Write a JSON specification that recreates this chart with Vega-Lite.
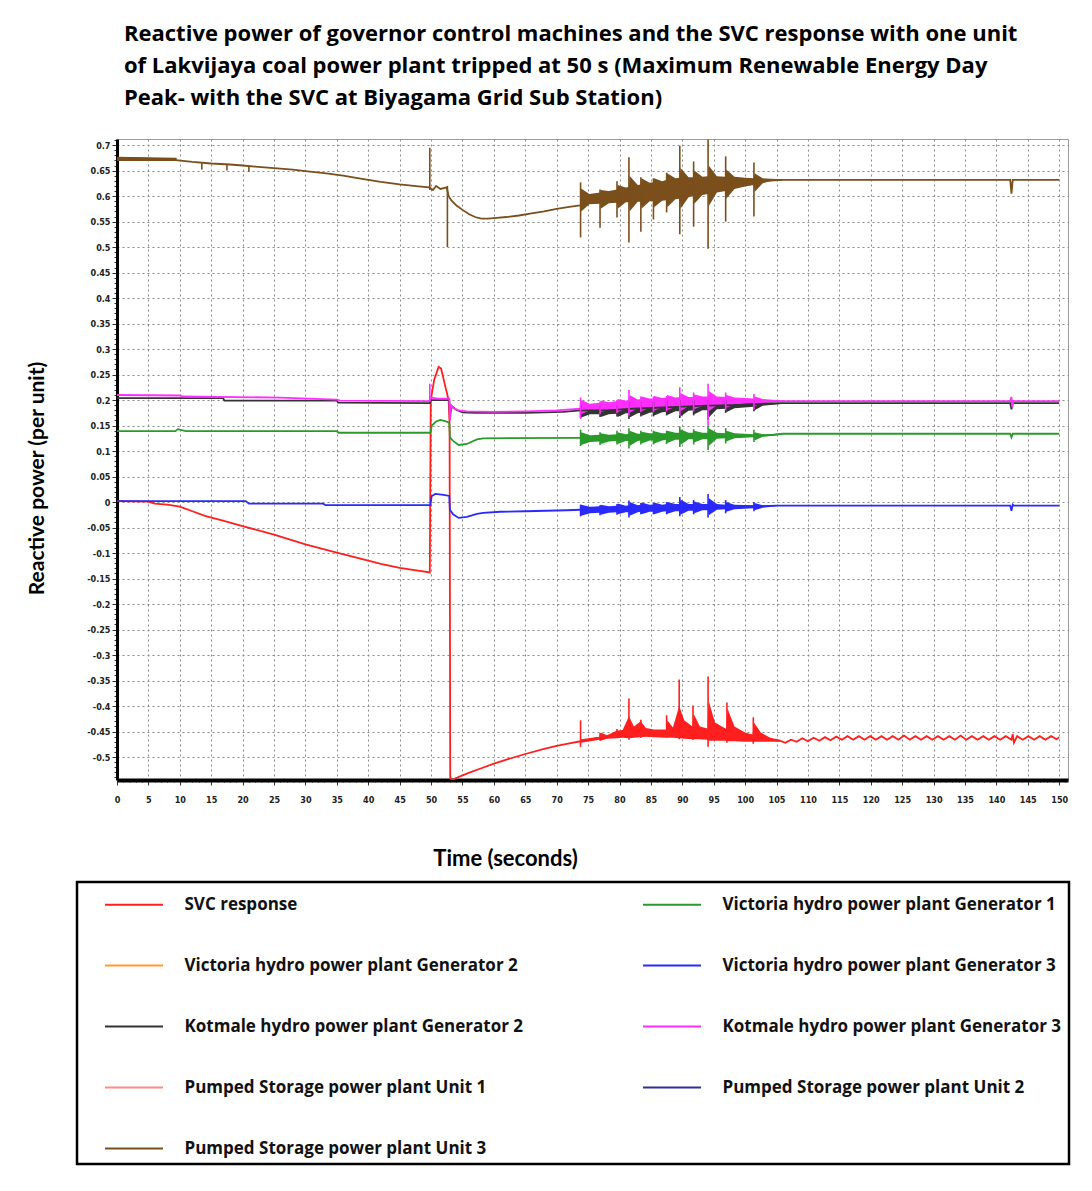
{
"$schema": "https://vega.github.io/schema/vega-lite/v6.json",
"width": 951,
"height": 641,
"autosize": {"type": "none"},
"padding": {"left": 117, "top": 139, "right": 24, "bottom": 411},
"background": "white",
"title": {
"text": ["Reactive power of governor control machines and the SVC response with one unit", "of Lakvijaya coal power plant tripped at 50 s (Maximum Renewable Energy Day", "Peak- with the SVC at Biyagama Grid Sub Station)"],
"anchor": "start", "frame": "group", "dx": 7, "offset": 26,
"font": "Open Sans", "fontSize": 22, "fontWeight": "bold", "color": "#000", "lineHeight": 32
},
"config": {
"view": {"stroke": "#9a9a9a", "strokeWidth": 1}
},
"datasets": {
"lines": [
{"s":"S","t":0,"q":0.002},{"s":"S","t":5,"q":0.001},{"s":"S","t":6,"q":-0.003},{"s":"S","t":8,"q":-0.005},{"s":"S","t":10,"q":-0.009},{"s":"S","t":12,"q":-0.018},{"s":"S","t":14,"q":-0.027},{"s":"S","t":17,"q":-0.037},{"s":"S","t":20,"q":-0.047},{"s":"S","t":25,"q":-0.064},{"s":"S","t":30,"q":-0.083},{"s":"S","t":35,"q":-0.099},{"s":"S","t":40,"q":-0.115},{"s":"S","t":42,"q":-0.121},{"s":"S","t":45,"q":-0.129},{"s":"S","t":49.8,"q":-0.138},{"s":"S","t":49.95,"q":0.2},{"s":"S","t":50.5,"q":0.24},{"s":"S","t":51.2,"q":0.265},{"s":"S","t":51.6,"q":0.262},{"s":"S","t":52.3,"q":0.225},{"s":"S","t":52.8,"q":0.2},{"s":"S","t":52.95,"q":0.15},{"s":"S","t":53.05,"q":-0.54},{"s":"S","t":53.3,"q":-0.545},{"s":"S","t":54,"q":-0.541},{"s":"S","t":55,"q":-0.536},{"s":"S","t":56,"q":-0.531},{"s":"S","t":58,"q":-0.522},{"s":"S","t":60,"q":-0.513},{"s":"S","t":62,"q":-0.505},{"s":"S","t":65,"q":-0.494},{"s":"S","t":68,"q":-0.484},{"s":"S","t":70,"q":-0.478},{"s":"S","t":72,"q":-0.473},{"s":"S","t":73.8,"q":-0.469},{"s":"S","t":76,"q":-0.464},{"s":"S","t":80,"q":-0.456},{"s":"S","t":84,"q":-0.454},{"s":"S","t":88,"q":-0.455},{"s":"S","t":92,"q":-0.456},{"s":"S","t":96,"q":-0.458},{"s":"S","t":100,"q":-0.461},{"s":"S","t":104,"q":-0.466},{"s":"S","t":105.5,"q":-0.468},{"s":"S","t":106.4,"q":-0.472},{"s":"S","t":107.3,"q":-0.466},{"s":"S","t":108.2,"q":-0.47},{"s":"S","t":109.1,"q":-0.463},{"s":"S","t":110,"q":-0.469},{"s":"S","t":110.9,"q":-0.462},{"s":"S","t":111.8,"q":-0.468},{"s":"S","t":112.7,"q":-0.461},{"s":"S","t":113.6,"q":-0.467},{"s":"S","t":114.5,"q":-0.46},{"s":"S","t":115.4,"q":-0.466},{"s":"S","t":116.3,"q":-0.459},{"s":"S","t":117.2,"q":-0.466},{"s":"S","t":118.1,"q":-0.459},{"s":"S","t":119,"q":-0.466},{"s":"S","t":119.9,"q":-0.459},{"s":"S","t":120.8,"q":-0.466},{"s":"S","t":121.7,"q":-0.459},{"s":"S","t":122.6,"q":-0.466},{"s":"S","t":123.5,"q":-0.459},{"s":"S","t":124.4,"q":-0.466},{"s":"S","t":125.3,"q":-0.458},{"s":"S","t":126.2,"q":-0.466},{"s":"S","t":127.1,"q":-0.459},{"s":"S","t":128,"q":-0.466},{"s":"S","t":128.9,"q":-0.459},{"s":"S","t":129.8,"q":-0.466},{"s":"S","t":130.7,"q":-0.459},{"s":"S","t":131.6,"q":-0.466},{"s":"S","t":132.5,"q":-0.459},{"s":"S","t":133.4,"q":-0.466},{"s":"S","t":134.3,"q":-0.458},{"s":"S","t":135.2,"q":-0.466},{"s":"S","t":136.1,"q":-0.459},{"s":"S","t":137,"q":-0.466},{"s":"S","t":137.9,"q":-0.459},{"s":"S","t":138.8,"q":-0.466},{"s":"S","t":139.7,"q":-0.459},{"s":"S","t":140.6,"q":-0.466},{"s":"S","t":141.5,"q":-0.459},{"s":"S","t":142.4,"q":-0.466},{"s":"S","t":142.6,"q":-0.455},{"s":"S","t":142.8,"q":-0.472},{"s":"S","t":143.3,"q":-0.459},{"s":"S","t":144.2,"q":-0.466},{"s":"S","t":145.1,"q":-0.459},{"s":"S","t":146,"q":-0.466},{"s":"S","t":146.9,"q":-0.459},{"s":"S","t":147.8,"q":-0.466},{"s":"S","t":148.7,"q":-0.459},{"s":"S","t":149.6,"q":-0.465},{"s":"S","t":150,"q":-0.461},
{"s":"P3","t":0,"q":0.673},{"s":"P3","t":3,"q":0.674},{"s":"P3","t":6,"q":0.673},{"s":"P3","t":9,"q":0.671},{"s":"P3","t":12,"q":0.667},{"s":"P3","t":15,"q":0.664},{"s":"P3","t":18,"q":0.662},{"s":"P3","t":20,"q":0.66},{"s":"P3","t":22,"q":0.658},{"s":"P3","t":25,"q":0.655},{"s":"P3","t":28,"q":0.652},{"s":"P3","t":30,"q":0.649},{"s":"P3","t":33,"q":0.645},{"s":"P3","t":36,"q":0.64},{"s":"P3","t":39,"q":0.634},{"s":"P3","t":42,"q":0.628},{"s":"P3","t":45,"q":0.623},{"s":"P3","t":48,"q":0.619},{"s":"P3","t":49.7,"q":0.617},{"s":"P3","t":50.3,"q":0.612},{"s":"P3","t":50.8,"q":0.62},{"s":"P3","t":51.5,"q":0.614},{"s":"P3","t":52.5,"q":0.617},{"s":"P3","t":52.8,"q":0.6},{"s":"P3","t":53.2,"q":0.592},{"s":"P3","t":54,"q":0.582},{"s":"P3","t":55,"q":0.573},{"s":"P3","t":56,"q":0.565},{"s":"P3","t":57,"q":0.559},{"s":"P3","t":58,"q":0.556},{"s":"P3","t":59,"q":0.556},{"s":"P3","t":60,"q":0.557},{"s":"P3","t":62,"q":0.559},{"s":"P3","t":64,"q":0.562},{"s":"P3","t":66,"q":0.566},{"s":"P3","t":68,"q":0.57},{"s":"P3","t":70,"q":0.575},{"s":"P3","t":72,"q":0.579},{"s":"P3","t":73.7,"q":0.582},{"s":"P3","t":78,"q":0.598},{"s":"P3","t":82,"q":0.604},{"s":"P3","t":86,"q":0.609},{"s":"P3","t":90,"q":0.616},{"s":"P3","t":94,"q":0.621},{"s":"P3","t":98,"q":0.626},{"s":"P3","t":102,"q":0.629},{"s":"P3","t":106,"q":0.632},{"s":"P3","t":120,"q":0.632},{"s":"P3","t":142.2,"q":0.632},{"s":"P3","t":142.4,"q":0.605},{"s":"P3","t":142.6,"q":0.632},{"s":"P3","t":150,"q":0.632},
{"s":"K2","t":0,"q":0.204},{"s":"K2","t":16.9,"q":0.204},{"s":"K2","t":17.1,"q":0.199},{"s":"K2","t":35,"q":0.199},{"s":"K2","t":35.2,"q":0.195},{"s":"K2","t":49.8,"q":0.194},{"s":"K2","t":50,"q":0.2},{"s":"K2","t":52.9,"q":0.2},{"s":"K2","t":53,"q":0.17},{"s":"K2","t":53.3,"q":0.188},{"s":"K2","t":54,"q":0.181},{"s":"K2","t":55,"q":0.176},{"s":"K2","t":57,"q":0.175},{"s":"K2","t":65,"q":0.175},{"s":"K2","t":71,"q":0.177},{"s":"K2","t":73.8,"q":0.18},{"s":"K2","t":78,"q":0.18},{"s":"K2","t":82,"q":0.183},{"s":"K2","t":86,"q":0.185},{"s":"K2","t":90,"q":0.187},{"s":"K2","t":94,"q":0.189},{"s":"K2","t":98,"q":0.19},{"s":"K2","t":102,"q":0.192},{"s":"K2","t":106,"q":0.194},{"s":"K2","t":142.2,"q":0.194},{"s":"K2","t":142.4,"q":0.182},{"s":"K2","t":142.6,"q":0.194},{"s":"K2","t":150,"q":0.194},
{"s":"K3","t":0,"q":0.21},{"s":"K3","t":10,"q":0.209},{"s":"K3","t":10.5,"q":0.207},{"s":"K3","t":26,"q":0.205},{"s":"K3","t":35,"q":0.201},{"s":"K3","t":35.5,"q":0.199},{"s":"K3","t":49.8,"q":0.198},{"s":"K3","t":50,"q":0.205},{"s":"K3","t":51,"q":0.203},{"s":"K3","t":52.9,"q":0.203},{"s":"K3","t":53,"q":0.16},{"s":"K3","t":53.2,"q":0.19},{"s":"K3","t":53.6,"q":0.184},{"s":"K3","t":54.4,"q":0.18},{"s":"K3","t":55.7,"q":0.178},{"s":"K3","t":60,"q":0.177},{"s":"K3","t":65,"q":0.178},{"s":"K3","t":70,"q":0.18},{"s":"K3","t":73.8,"q":0.183},{"s":"K3","t":78,"q":0.188},{"s":"K3","t":82,"q":0.191},{"s":"K3","t":86,"q":0.194},{"s":"K3","t":90,"q":0.196},{"s":"K3","t":94,"q":0.197},{"s":"K3","t":98,"q":0.198},{"s":"K3","t":106,"q":0.198},{"s":"K3","t":142.2,"q":0.198},{"s":"K3","t":142.4,"q":0.206},{"s":"K3","t":142.5,"q":0.186},{"s":"K3","t":142.7,"q":0.198},{"s":"K3","t":150,"q":0.198},
{"s":"V1","t":0,"q":0.139},{"s":"V1","t":9.3,"q":0.139},{"s":"V1","t":9.7,"q":0.143},{"s":"V1","t":10.3,"q":0.141},{"s":"V1","t":11,"q":0.139},{"s":"V1","t":35,"q":0.139},{"s":"V1","t":35.3,"q":0.136},{"s":"V1","t":49.9,"q":0.136},{"s":"V1","t":50.1,"q":0.15},{"s":"V1","t":50.8,"q":0.158},{"s":"V1","t":51.5,"q":0.161},{"s":"V1","t":52.5,"q":0.158},{"s":"V1","t":52.9,"q":0.155},{"s":"V1","t":53,"q":0.127},{"s":"V1","t":53.5,"q":0.12},{"s":"V1","t":54.4,"q":0.112},{"s":"V1","t":55.7,"q":0.114},{"s":"V1","t":57.3,"q":0.123},{"s":"V1","t":58.3,"q":0.125},{"s":"V1","t":73.8,"q":0.126},{"s":"V1","t":78,"q":0.126},{"s":"V1","t":82,"q":0.127},{"s":"V1","t":86,"q":0.128},{"s":"V1","t":90,"q":0.129},{"s":"V1","t":94,"q":0.13},{"s":"V1","t":102,"q":0.13},{"s":"V1","t":104.5,"q":0.132},{"s":"V1","t":106,"q":0.134},{"s":"V1","t":142.2,"q":0.134},{"s":"V1","t":142.4,"q":0.127},{"s":"V1","t":142.6,"q":0.134},{"s":"V1","t":150,"q":0.134},
{"s":"V3","t":0,"q":0.002},{"s":"V3","t":20.5,"q":0.002},{"s":"V3","t":21,"q":-0.003},{"s":"V3","t":32.8,"q":-0.003},{"s":"V3","t":33.2,"q":-0.006},{"s":"V3","t":49.9,"q":-0.006},{"s":"V3","t":50.1,"q":0.012},{"s":"V3","t":50.7,"q":0.016},{"s":"V3","t":52,"q":0.014},{"s":"V3","t":52.9,"q":0.012},{"s":"V3","t":53,"q":-0.015},{"s":"V3","t":53.5,"q":-0.024},{"s":"V3","t":54.4,"q":-0.031},{"s":"V3","t":55.7,"q":-0.029},{"s":"V3","t":57.3,"q":-0.023},{"s":"V3","t":58.3,"q":-0.021},{"s":"V3","t":61,"q":-0.019},{"s":"V3","t":65,"q":-0.018},{"s":"V3","t":71.6,"q":-0.016},{"s":"V3","t":73.8,"q":-0.015},{"s":"V3","t":78,"q":-0.014},{"s":"V3","t":82,"q":-0.013},{"s":"V3","t":86,"q":-0.012},{"s":"V3","t":90,"q":-0.011},{"s":"V3","t":94,"q":-0.01},{"s":"V3","t":98,"q":-0.009},{"s":"V3","t":102,"q":-0.008},{"s":"V3","t":105,"q":-0.007},{"s":"V3","t":142.2,"q":-0.007},{"s":"V3","t":142.4,"q":-0.017},{"s":"V3","t":142.6,"q":-0.005},{"s":"V3","t":142.8,"q":-0.007},{"s":"V3","t":150,"q":-0.007}
],
"bands": [
{"s":"S","g":2,"t":73.9,"lo":-0.472,"hi":-0.465},{"s":"S","g":2,"t":76.8,"lo":-0.466,"hi":-0.46},{"s":"S","g":2,"t":77,"lo":-0.468,"hi":-0.452},{"s":"S","g":2,"t":78,"lo":-0.464,"hi":-0.457},{"s":"S","g":2,"t":79.6,"lo":-0.463,"hi":-0.448},{"s":"S","g":2,"t":80.5,"lo":-0.462,"hi":-0.447},{"s":"S","g":2,"t":81.5,"lo":-0.463,"hi":-0.42},{"s":"S","g":2,"t":82.3,"lo":-0.462,"hi":-0.44},{"s":"S","g":2,"t":83.4,"lo":-0.461,"hi":-0.43},{"s":"S","g":2,"t":84.2,"lo":-0.46,"hi":-0.443},{"s":"S","g":2,"t":85.5,"lo":-0.461,"hi":-0.446},{"s":"S","g":2,"t":87.4,"lo":-0.462,"hi":-0.446},{"s":"S","g":2,"t":87.6,"lo":-0.462,"hi":-0.428},{"s":"S","g":2,"t":88.5,"lo":-0.462,"hi":-0.442},{"s":"S","g":2,"t":89.5,"lo":-0.463,"hi":-0.4},{"s":"S","g":2,"t":90.3,"lo":-0.464,"hi":-0.428},{"s":"S","g":2,"t":91.6,"lo":-0.465,"hi":-0.44},{"s":"S","g":2,"t":91.8,"lo":-0.465,"hi":-0.415},{"s":"S","g":2,"t":92.8,"lo":-0.465,"hi":-0.44},{"s":"S","g":2,"t":94,"lo":-0.466,"hi":-0.444},{"s":"S","g":2,"t":94.2,"lo":-0.468,"hi":-0.39},{"s":"S","g":2,"t":95.2,"lo":-0.468,"hi":-0.432},{"s":"S","g":2,"t":97,"lo":-0.468,"hi":-0.445},{"s":"S","g":2,"t":97.2,"lo":-0.469,"hi":-0.405},{"s":"S","g":2,"t":98.3,"lo":-0.469,"hi":-0.44},{"s":"S","g":2,"t":100,"lo":-0.47,"hi":-0.452},{"s":"S","g":2,"t":101.2,"lo":-0.47,"hi":-0.456},{"s":"S","g":2,"t":101.4,"lo":-0.47,"hi":-0.432},{"s":"S","g":2,"t":102.5,"lo":-0.47,"hi":-0.452},{"s":"S","g":2,"t":104,"lo":-0.47,"hi":-0.462},{"s":"S","g":2,"t":105.5,"lo":-0.47,"hi":-0.466},
{"s":"P3","g":1,"t":0,"lo":0.669,"hi":0.677},{"s":"P3","g":1,"t":9.5,"lo":0.669,"hi":0.675},
{"s":"P3","g":2,"t":73.8,"lo":0.583,"hi":0.603},{"s":"P3","g":2,"t":73.9,"lo":0.57,"hi":0.615},{"s":"P3","g":2,"t":75.2,"lo":0.584,"hi":0.604},{"s":"P3","g":2,"t":76.9,"lo":0.585,"hi":0.607},{"s":"P3","g":2,"t":77,"lo":0.575,"hi":0.612},{"s":"P3","g":2,"t":78.3,"lo":0.586,"hi":0.61},{"s":"P3","g":2,"t":79.6,"lo":0.587,"hi":0.613},{"s":"P3","g":2,"t":79.7,"lo":0.575,"hi":0.622},{"s":"P3","g":2,"t":81,"lo":0.588,"hi":0.617},{"s":"P3","g":2,"t":81.5,"lo":0.588,"hi":0.618},{"s":"P3","g":2,"t":81.6,"lo":0.57,"hi":0.64},{"s":"P3","g":2,"t":82.9,"lo":0.589,"hi":0.622},{"s":"P3","g":2,"t":83.4,"lo":0.589,"hi":0.623},{"s":"P3","g":2,"t":83.5,"lo":0.575,"hi":0.635},{"s":"P3","g":2,"t":84.8,"lo":0.59,"hi":0.626},{"s":"P3","g":2,"t":85.4,"lo":0.59,"hi":0.627},{"s":"P3","g":2,"t":85.5,"lo":0.578,"hi":0.635},{"s":"P3","g":2,"t":86.8,"lo":0.591,"hi":0.629},{"s":"P3","g":2,"t":87.5,"lo":0.592,"hi":0.632},{"s":"P3","g":2,"t":87.6,"lo":0.578,"hi":0.645},{"s":"P3","g":2,"t":88.9,"lo":0.594,"hi":0.635},{"s":"P3","g":2,"t":89.6,"lo":0.595,"hi":0.636},{"s":"P3","g":2,"t":89.7,"lo":0.575,"hi":0.655},{"s":"P3","g":2,"t":91,"lo":0.598,"hi":0.637},{"s":"P3","g":2,"t":91.8,"lo":0.6,"hi":0.637},{"s":"P3","g":2,"t":91.9,"lo":0.585,"hi":0.65},{"s":"P3","g":2,"t":93.2,"lo":0.602,"hi":0.638},{"s":"P3","g":2,"t":94.1,"lo":0.604,"hi":0.639},{"s":"P3","g":2,"t":94.2,"lo":0.58,"hi":0.66},{"s":"P3","g":2,"t":95.5,"lo":0.607,"hi":0.639},{"s":"P3","g":2,"t":96.9,"lo":0.61,"hi":0.638},{"s":"P3","g":2,"t":97,"lo":0.595,"hi":0.652},{"s":"P3","g":2,"t":98.3,"lo":0.614,"hi":0.638},{"s":"P3","g":2,"t":100,"lo":0.619,"hi":0.636},{"s":"P3","g":2,"t":101.4,"lo":0.622,"hi":0.635},{"s":"P3","g":2,"t":101.5,"lo":0.608,"hi":0.645},{"s":"P3","g":2,"t":102.8,"lo":0.625,"hi":0.635},{"s":"P3","g":2,"t":104,"lo":0.629,"hi":0.634},{"s":"P3","g":2,"t":106,"lo":0.631,"hi":0.633},
{"s":"K2","g":2,"t":73.8,"lo":0.172,"hi":0.186},{"s":"K2","g":2,"t":73.9,"lo":0.166,"hi":0.188},{"s":"K2","g":2,"t":75.3,"lo":0.172,"hi":0.187},{"s":"K2","g":2,"t":76.9,"lo":0.172,"hi":0.187},{"s":"K2","g":2,"t":77,"lo":0.167,"hi":0.189},{"s":"K2","g":2,"t":78.3,"lo":0.172,"hi":0.188},{"s":"K2","g":2,"t":79.6,"lo":0.173,"hi":0.189},{"s":"K2","g":2,"t":79.7,"lo":0.167,"hi":0.19},{"s":"K2","g":2,"t":81,"lo":0.174,"hi":0.191},{"s":"K2","g":2,"t":81.5,"lo":0.174,"hi":0.191},{"s":"K2","g":2,"t":81.6,"lo":0.166,"hi":0.194},{"s":"K2","g":2,"t":82.9,"lo":0.174,"hi":0.192},{"s":"K2","g":2,"t":83.4,"lo":0.175,"hi":0.193},{"s":"K2","g":2,"t":83.5,"lo":0.169,"hi":0.195},{"s":"K2","g":2,"t":84.8,"lo":0.175,"hi":0.194},{"s":"K2","g":2,"t":85.4,"lo":0.176,"hi":0.194},{"s":"K2","g":2,"t":85.5,"lo":0.17,"hi":0.196},{"s":"K2","g":2,"t":86.8,"lo":0.176,"hi":0.195},{"s":"K2","g":2,"t":87.5,"lo":0.177,"hi":0.196},{"s":"K2","g":2,"t":87.6,"lo":0.171,"hi":0.197},{"s":"K2","g":2,"t":88.9,"lo":0.178,"hi":0.196},{"s":"K2","g":2,"t":89.6,"lo":0.178,"hi":0.197},{"s":"K2","g":2,"t":89.7,"lo":0.168,"hi":0.199},{"s":"K2","g":2,"t":91,"lo":0.179,"hi":0.197},{"s":"K2","g":2,"t":91.8,"lo":0.18,"hi":0.197},{"s":"K2","g":2,"t":91.9,"lo":0.172,"hi":0.199},{"s":"K2","g":2,"t":93.2,"lo":0.18,"hi":0.198},{"s":"K2","g":2,"t":94.1,"lo":0.18,"hi":0.198},{"s":"K2","g":2,"t":94.2,"lo":0.166,"hi":0.2},{"s":"K2","g":2,"t":95.5,"lo":0.182,"hi":0.198},{"s":"K2","g":2,"t":96.9,"lo":0.183,"hi":0.197},{"s":"K2","g":2,"t":97,"lo":0.176,"hi":0.199},{"s":"K2","g":2,"t":98.3,"lo":0.184,"hi":0.197},{"s":"K2","g":2,"t":101.4,"lo":0.187,"hi":0.196},{"s":"K2","g":2,"t":101.5,"lo":0.18,"hi":0.198},{"s":"K2","g":2,"t":102.8,"lo":0.189,"hi":0.196},{"s":"K2","g":2,"t":106,"lo":0.193,"hi":0.195},
{"s":"K3","g":2,"t":73.8,"lo":0.18,"hi":0.192},{"s":"K3","g":2,"t":73.9,"lo":0.172,"hi":0.2},{"s":"K3","g":2,"t":75.3,"lo":0.18,"hi":0.193},{"s":"K3","g":2,"t":76.9,"lo":0.181,"hi":0.195},{"s":"K3","g":2,"t":77,"lo":0.176,"hi":0.199},{"s":"K3","g":2,"t":78.3,"lo":0.181,"hi":0.196},{"s":"K3","g":2,"t":79.6,"lo":0.182,"hi":0.198},{"s":"K3","g":2,"t":79.7,"lo":0.176,"hi":0.202},{"s":"K3","g":2,"t":81,"lo":0.183,"hi":0.199},{"s":"K3","g":2,"t":81.5,"lo":0.183,"hi":0.2},{"s":"K3","g":2,"t":81.6,"lo":0.175,"hi":0.21},{"s":"K3","g":2,"t":82.9,"lo":0.184,"hi":0.201},{"s":"K3","g":2,"t":83.4,"lo":0.184,"hi":0.202},{"s":"K3","g":2,"t":83.5,"lo":0.178,"hi":0.207},{"s":"K3","g":2,"t":84.8,"lo":0.185,"hi":0.203},{"s":"K3","g":2,"t":85.4,"lo":0.185,"hi":0.203},{"s":"K3","g":2,"t":85.5,"lo":0.179,"hi":0.208},{"s":"K3","g":2,"t":86.8,"lo":0.186,"hi":0.204},{"s":"K3","g":2,"t":87.5,"lo":0.186,"hi":0.205},{"s":"K3","g":2,"t":87.6,"lo":0.18,"hi":0.21},{"s":"K3","g":2,"t":88.9,"lo":0.187,"hi":0.205},{"s":"K3","g":2,"t":89.6,"lo":0.187,"hi":0.206},{"s":"K3","g":2,"t":89.7,"lo":0.178,"hi":0.214},{"s":"K3","g":2,"t":91,"lo":0.188,"hi":0.206},{"s":"K3","g":2,"t":91.8,"lo":0.188,"hi":0.206},{"s":"K3","g":2,"t":91.9,"lo":0.182,"hi":0.211},{"s":"K3","g":2,"t":93.2,"lo":0.189,"hi":0.207},{"s":"K3","g":2,"t":94.1,"lo":0.189,"hi":0.207},{"s":"K3","g":2,"t":94.2,"lo":0.178,"hi":0.218},{"s":"K3","g":2,"t":95.5,"lo":0.19,"hi":0.207},{"s":"K3","g":2,"t":96.9,"lo":0.191,"hi":0.206},{"s":"K3","g":2,"t":97,"lo":0.185,"hi":0.21},{"s":"K3","g":2,"t":98.3,"lo":0.192,"hi":0.205},{"s":"K3","g":2,"t":101.4,"lo":0.194,"hi":0.203},{"s":"K3","g":2,"t":101.5,"lo":0.188,"hi":0.207},{"s":"K3","g":2,"t":102.8,"lo":0.195,"hi":0.202},{"s":"K3","g":2,"t":106,"lo":0.197,"hi":0.199},
{"s":"V1","g":2,"t":73.8,"lo":0.118,"hi":0.131},{"s":"V1","g":2,"t":73.9,"lo":0.112,"hi":0.137},{"s":"V1","g":2,"t":75.3,"lo":0.118,"hi":0.131},{"s":"V1","g":2,"t":76.9,"lo":0.119,"hi":0.132},{"s":"V1","g":2,"t":77,"lo":0.114,"hi":0.135},{"s":"V1","g":2,"t":78.3,"lo":0.119,"hi":0.132},{"s":"V1","g":2,"t":79.6,"lo":0.12,"hi":0.133},{"s":"V1","g":2,"t":79.7,"lo":0.114,"hi":0.137},{"s":"V1","g":2,"t":81,"lo":0.12,"hi":0.133},{"s":"V1","g":2,"t":81.5,"lo":0.12,"hi":0.134},{"s":"V1","g":2,"t":81.6,"lo":0.11,"hi":0.14},{"s":"V1","g":2,"t":82.9,"lo":0.12,"hi":0.134},{"s":"V1","g":2,"t":83.4,"lo":0.121,"hi":0.134},{"s":"V1","g":2,"t":83.5,"lo":0.115,"hi":0.138},{"s":"V1","g":2,"t":84.8,"lo":0.121,"hi":0.135},{"s":"V1","g":2,"t":85.4,"lo":0.121,"hi":0.135},{"s":"V1","g":2,"t":85.5,"lo":0.115,"hi":0.139},{"s":"V1","g":2,"t":86.8,"lo":0.121,"hi":0.135},{"s":"V1","g":2,"t":87.5,"lo":0.122,"hi":0.135},{"s":"V1","g":2,"t":87.6,"lo":0.116,"hi":0.14},{"s":"V1","g":2,"t":88.9,"lo":0.122,"hi":0.136},{"s":"V1","g":2,"t":89.6,"lo":0.122,"hi":0.136},{"s":"V1","g":2,"t":89.7,"lo":0.112,"hi":0.143},{"s":"V1","g":2,"t":91,"lo":0.123,"hi":0.136},{"s":"V1","g":2,"t":91.8,"lo":0.123,"hi":0.136},{"s":"V1","g":2,"t":91.9,"lo":0.117,"hi":0.14},{"s":"V1","g":2,"t":93.2,"lo":0.123,"hi":0.136},{"s":"V1","g":2,"t":94.1,"lo":0.123,"hi":0.136},{"s":"V1","g":2,"t":94.2,"lo":0.11,"hi":0.145},{"s":"V1","g":2,"t":95.5,"lo":0.124,"hi":0.136},{"s":"V1","g":2,"t":96.9,"lo":0.125,"hi":0.135},{"s":"V1","g":2,"t":97,"lo":0.119,"hi":0.14},{"s":"V1","g":2,"t":98.3,"lo":0.125,"hi":0.135},{"s":"V1","g":2,"t":101.4,"lo":0.127,"hi":0.133},{"s":"V1","g":2,"t":101.5,"lo":0.121,"hi":0.137},{"s":"V1","g":2,"t":102.8,"lo":0.128,"hi":0.133},{"s":"V1","g":2,"t":104.5,"lo":0.13,"hi":0.133},{"s":"V1","g":2,"t":106,"lo":0.133,"hi":0.135},
{"s":"V3","g":2,"t":73.8,"lo":-0.022,"hi":-0.01},{"s":"V3","g":2,"t":73.9,"lo":-0.027,"hi":-0.005},{"s":"V3","g":2,"t":75.3,"lo":-0.022,"hi":-0.009},{"s":"V3","g":2,"t":76.9,"lo":-0.021,"hi":-0.008},{"s":"V3","g":2,"t":77,"lo":-0.025,"hi":-0.005},{"s":"V3","g":2,"t":78.3,"lo":-0.021,"hi":-0.008},{"s":"V3","g":2,"t":79.6,"lo":-0.02,"hi":-0.007},{"s":"V3","g":2,"t":79.7,"lo":-0.024,"hi":-0.003},{"s":"V3","g":2,"t":81,"lo":-0.02,"hi":-0.007},{"s":"V3","g":2,"t":81.5,"lo":-0.02,"hi":-0.006},{"s":"V3","g":2,"t":81.6,"lo":-0.027,"hi":0},{"s":"V3","g":2,"t":82.9,"lo":-0.02,"hi":-0.006},{"s":"V3","g":2,"t":83.4,"lo":-0.019,"hi":-0.005},{"s":"V3","g":2,"t":83.5,"lo":-0.024,"hi":-0.001},{"s":"V3","g":2,"t":84.8,"lo":-0.019,"hi":-0.005},{"s":"V3","g":2,"t":85.4,"lo":-0.019,"hi":-0.005},{"s":"V3","g":2,"t":85.5,"lo":-0.024,"hi":-0.001},{"s":"V3","g":2,"t":86.8,"lo":-0.019,"hi":-0.005},{"s":"V3","g":2,"t":87.5,"lo":-0.018,"hi":-0.004},{"s":"V3","g":2,"t":87.6,"lo":-0.023,"hi":0},{"s":"V3","g":2,"t":88.9,"lo":-0.018,"hi":-0.004},{"s":"V3","g":2,"t":89.6,"lo":-0.018,"hi":-0.004},{"s":"V3","g":2,"t":89.7,"lo":-0.025,"hi":0.005},{"s":"V3","g":2,"t":91,"lo":-0.017,"hi":-0.004},{"s":"V3","g":2,"t":91.8,"lo":-0.017,"hi":-0.004},{"s":"V3","g":2,"t":91.9,"lo":-0.022,"hi":0.001},{"s":"V3","g":2,"t":93.2,"lo":-0.016,"hi":-0.004},{"s":"V3","g":2,"t":94.1,"lo":-0.016,"hi":-0.004},{"s":"V3","g":2,"t":94.2,"lo":-0.026,"hi":0.008},{"s":"V3","g":2,"t":95.5,"lo":-0.015,"hi":-0.004},{"s":"V3","g":2,"t":96.9,"lo":-0.014,"hi":-0.005},{"s":"V3","g":2,"t":97,"lo":-0.019,"hi":0},{"s":"V3","g":2,"t":98.3,"lo":-0.014,"hi":-0.005},{"s":"V3","g":2,"t":101.4,"lo":-0.012,"hi":-0.006},{"s":"V3","g":2,"t":101.5,"lo":-0.016,"hi":-0.002},{"s":"V3","g":2,"t":102.8,"lo":-0.011,"hi":-0.006},{"s":"V3","g":2,"t":105,"lo":-0.008,"hi":-0.006}
],
"spikes": [
{"s":"S","t":73.8,"lo":-0.48,"hi":-0.428},{"s":"S","t":76.9,"lo":-0.468,"hi":-0.453},{"s":"S","t":79.6,"lo":-0.462,"hi":-0.445},{"s":"S","t":81.5,"lo":-0.466,"hi":-0.385},{"s":"S","t":83.4,"lo":-0.462,"hi":-0.427},{"s":"S","t":87.5,"lo":-0.462,"hi":-0.418},{"s":"S","t":89.5,"lo":-0.465,"hi":-0.348},{"s":"S","t":91.7,"lo":-0.466,"hi":-0.399},{"s":"S","t":94.1,"lo":-0.48,"hi":-0.342},{"s":"S","t":97.1,"lo":-0.472,"hi":-0.393},{"s":"S","t":101.3,"lo":-0.474,"hi":-0.422},
{"s":"P3","t":13.5,"lo":0.652,"hi":0.665},{"s":"P3","t":17.5,"lo":0.65,"hi":0.662},{"s":"P3","t":21,"lo":0.648,"hi":0.659},{"s":"P3","t":49.8,"lo":0.612,"hi":0.695},{"s":"P3","t":52.6,"lo":0.5,"hi":0.62},{"s":"P3","t":73.8,"lo":0.519,"hi":0.627},{"s":"P3","t":76.9,"lo":0.538,"hi":0.613},{"s":"P3","t":79.6,"lo":0.558,"hi":0.629},{"s":"P3","t":81.5,"lo":0.509,"hi":0.676},{"s":"P3","t":83.4,"lo":0.53,"hi":0.637},{"s":"P3","t":85.4,"lo":0.554,"hi":0.635},{"s":"P3","t":87.5,"lo":0.568,"hi":0.646},{"s":"P3","t":89.6,"lo":0.525,"hi":0.699},{"s":"P3","t":91.8,"lo":0.54,"hi":0.668},{"s":"P3","t":94.1,"lo":0.497,"hi":0.711},{"s":"P3","t":96.9,"lo":0.55,"hi":0.678},{"s":"P3","t":101.4,"lo":0.56,"hi":0.666},
{"s":"K2","t":73.8,"lo":0.165,"hi":0.19},{"s":"K2","t":76.9,"lo":0.167,"hi":0.188},{"s":"K2","t":79.6,"lo":0.168,"hi":0.19},{"s":"K2","t":81.5,"lo":0.163,"hi":0.196},{"s":"K2","t":83.4,"lo":0.168,"hi":0.196},{"s":"K2","t":85.4,"lo":0.168,"hi":0.197},{"s":"K2","t":87.5,"lo":0.17,"hi":0.198},{"s":"K2","t":89.6,"lo":0.165,"hi":0.2},{"s":"K2","t":91.8,"lo":0.17,"hi":0.2},{"s":"K2","t":94.1,"lo":0.162,"hi":0.2},{"s":"K2","t":96.9,"lo":0.175,"hi":0.2},{"s":"K2","t":101.4,"lo":0.178,"hi":0.199},
{"s":"K3","t":49.8,"lo":0.198,"hi":0.232},{"s":"K3","t":73.8,"lo":0.163,"hi":0.205},{"s":"K3","t":76.9,"lo":0.172,"hi":0.197},{"s":"K3","t":79.6,"lo":0.174,"hi":0.2},{"s":"K3","t":81.5,"lo":0.17,"hi":0.22},{"s":"K3","t":83.4,"lo":0.176,"hi":0.207},{"s":"K3","t":85.4,"lo":0.176,"hi":0.207},{"s":"K3","t":87.5,"lo":0.178,"hi":0.208},{"s":"K3","t":89.6,"lo":0.17,"hi":0.225},{"s":"K3","t":91.8,"lo":0.178,"hi":0.215},{"s":"K3","t":94.1,"lo":0.15,"hi":0.232},{"s":"K3","t":96.9,"lo":0.18,"hi":0.215},{"s":"K3","t":101.4,"lo":0.182,"hi":0.212},
{"s":"V1","t":73.8,"lo":0.11,"hi":0.142},{"s":"V1","t":76.9,"lo":0.112,"hi":0.137},{"s":"V1","t":79.6,"lo":0.113,"hi":0.14},{"s":"V1","t":81.5,"lo":0.105,"hi":0.145},{"s":"V1","t":83.4,"lo":0.113,"hi":0.14},{"s":"V1","t":85.4,"lo":0.113,"hi":0.14},{"s":"V1","t":87.5,"lo":0.114,"hi":0.14},{"s":"V1","t":89.6,"lo":0.108,"hi":0.148},{"s":"V1","t":91.8,"lo":0.113,"hi":0.143},{"s":"V1","t":94.1,"lo":0.102,"hi":0.15},{"s":"V1","t":96.9,"lo":0.115,"hi":0.145},{"s":"V1","t":101.4,"lo":0.118,"hi":0.142},
{"s":"V3","t":73.8,"lo":-0.028,"hi":-0.005},{"s":"V3","t":76.9,"lo":-0.026,"hi":-0.006},{"s":"V3","t":79.6,"lo":-0.025,"hi":-0.004},{"s":"V3","t":81.5,"lo":-0.03,"hi":0.003},{"s":"V3","t":83.4,"lo":-0.024,"hi":-0.002},{"s":"V3","t":85.4,"lo":-0.024,"hi":-0.002},{"s":"V3","t":87.5,"lo":-0.024,"hi":0},{"s":"V3","t":89.6,"lo":-0.028,"hi":0.01},{"s":"V3","t":91.8,"lo":-0.024,"hi":0.004},{"s":"V3","t":94.1,"lo":-0.03,"hi":0.016},{"s":"V3","t":96.9,"lo":-0.022,"hi":0.004},{"s":"V3","t":101.4,"lo":-0.018,"hi":0}
]
},
"encoding": {
"x": {"field": "t", "type": "quantitative",
"scale": {"domain": [0, 151.4], "nice": false, "zero": false},
"axis": {
"values": [0,1,2,3,4,5,6,7,8,9,10,11,12,13,14,15,16,17,18,19,20,21,22,23,24,25,26,27,28,29,30,31,32,33,34,35,36,37,38,39,40,41,42,43,44,45,46,47,48,49,50,51,52,53,54,55,56,57,58,59,60,61,62,63,64,65,66,67,68,69,70,71,72,73,74,75,76,77,78,79,80,81,82,83,84,85,86,87,88,89,90,91,92,93,94,95,96,97,98,99,100,101,102,103,104,105,106,107,108,109,110,111,112,113,114,115,116,117,118,119,120,121,122,123,124,125,126,127,128,129,130,131,132,133,134,135,136,137,138,139,140,141,142,143,144,145,146,147,148,149,150,151],
"labelExpr": "datum.value % 5 == 0 ? datum.label : ''",
"labelOverlap": false, "labelBound": false, "labelFlush": false,
"labelFont": "DejaVu Sans Condensed", "labelFontSize": 9, "labelFontWeight": "bold", "labelColor": "#222",
"labelPadding": 10,
"tickSize": {"condition": {"test": "datum.value % 5 == 0", "value": 5}, "value": 2},
"tickColor": "#333",
"grid": true,
"gridOpacity": {"condition": {"test": "datum.value % 5 == 0", "value": 1}, "value": 0},
"gridColor": "#8a8a8a", "gridDash": [2, 3], "gridWidth": 1,
"domainColor": "#000", "domainWidth": 4,
"title": "Time (seconds)", "titleFont": "Lato", "titleFontSize": 22, "titleFontWeight": "bold", "titleColor": "#000",
"titleX": 388, "titleY": 78, "titleAlign": "center", "titleBaseline": "middle"
}
},
"y": {"type": "quantitative",
"scale": {"domain": [-0.545, 0.712], "nice": false, "zero": false},
"axis": {
"values": [-0.54,-0.53,-0.52,-0.51,-0.5,-0.49,-0.48,-0.47,-0.46,-0.45,-0.44,-0.43,-0.42,-0.41,-0.4,-0.39,-0.38,-0.37,-0.36,-0.35,-0.34,-0.33,-0.32,-0.31,-0.3,-0.29,-0.28,-0.27,-0.26,-0.25,-0.24,-0.23,-0.22,-0.21,-0.2,-0.19,-0.18,-0.17,-0.16,-0.15,-0.14,-0.13,-0.12,-0.11,-0.1,-0.09,-0.08,-0.07,-0.06,-0.05,-0.04,-0.03,-0.02,-0.01,0,0.01,0.02,0.03,0.04,0.05,0.06,0.07,0.08,0.09,0.1,0.11,0.12,0.13,0.14,0.15,0.16,0.17,0.18,0.19,0.2,0.21,0.22,0.23,0.24,0.25,0.26,0.27,0.28,0.29,0.3,0.31,0.32,0.33,0.34,0.35,0.36,0.37,0.38,0.39,0.4,0.41,0.42,0.43,0.44,0.45,0.46,0.47,0.48,0.49,0.5,0.51,0.52,0.53,0.54,0.55,0.56,0.57,0.58,0.59,0.6,0.61,0.62,0.63,0.64,0.65,0.66,0.67,0.68,0.69,0.7,0.71],
"labelExpr": "abs(datum.value*20-round(datum.value*20))<0.001 ? replace(format(datum.value,'.2~f'),'\u2212','-') : ''",
"labelOverlap": false, "labelBound": false, "labelFlush": false,
"labelFont": "DejaVu Sans Condensed", "labelFontSize": 9, "labelFontWeight": "bold", "labelColor": "#222",
"labelPadding": 2,
"tickSize": {"condition": {"test": "abs(datum.value*20-round(datum.value*20))<0.001", "value": 5}, "value": 3},
"tickColor": "#333",
"grid": true,
"gridOpacity": {"condition": {"test": "abs(datum.value*20-round(datum.value*20))<0.001", "value": 1}, "value": 0},
"gridColor": "#8a8a8a", "gridDash": [2, 3], "gridWidth": 1,
"domainColor": "#000", "domainWidth": 3,
"title": "Reactive power (per unit)", "titleFont": "Lato", "titleFontSize": 21, "titleFontWeight": "bold", "titleColor": "#000",
"titleX": -80, "titleY": 339, "titleAngle": -90, "titleAlign": "center", "titleBaseline": "middle"
}
},
"color": {"field": "s", "type": "nominal",
"scale": {"domain": ["S","V1","V2","V3","K2","K3","P1","P2","P3"],
"range": ["#ff1f1f","#2a9a2a","#ff9a2e","#2a2aff","#333333","#ff2eff","#ff8a8a","#2e2e99","#7a4f1c"]},
"legend": {
"orient": "none", "legendX": -40, "legendY": 743, "columns": 2, "direction": "horizontal", "title": null,
"symbolType": "M-2,0H2", "symbolSize": 841, "symbolStrokeWidth": 2, "symbolOffset": 34.5,
"symbolFillColor": "transparent",
"labelOffset": 35, "labelFont": "Open Sans", "labelFontSize": 17, "labelFontWeight": "bold", "labelColor": "#111", "labelLimit": 0,
"rowPadding": 37, "columnPadding": 98, "padding": 7,
"strokeColor": "#000",
"encode": {"legend": {"update": {"stroke": {"value": "#000"}, "strokeWidth": {"value": 2.5}}}},
"labelExpr": "datum.label=='S'?'SVC response':datum.label=='V1'?'Victoria hydro power plant Generator 1':datum.label=='V2'?'Victoria hydro power plant Generator 2':datum.label=='V3'?'Victoria hydro power plant Generator 3':datum.label=='K2'?'Kotmale hydro power plant Generator 2':datum.label=='K3'?'Kotmale hydro power plant Generator 3':datum.label=='P1'?'Pumped Storage power plant Unit 1':datum.label=='P2'?'Pumped Storage power plant Unit 2':'Pumped Storage power plant Unit 3'"
}
}
},
"layer": [
{"data": {"name": "bands"},
"mark": {"type": "area", "opacity": 1, "clip": true},
"encoding": {"y": {"field": "lo"}, "y2": {"field": "hi"}, "detail": {"field": "g"}}
},
{"data": {"name": "lines"},
"mark": {"type": "line", "strokeWidth": 1.8, "clip": true},
"encoding": {"y": {"field": "q"}}
},
{"data": {"name": "spikes"},
"mark": {"type": "rule", "strokeWidth": 1.6, "clip": true},
"encoding": {"y": {"field": "lo"}, "y2": {"field": "hi"}}
}
]
}
